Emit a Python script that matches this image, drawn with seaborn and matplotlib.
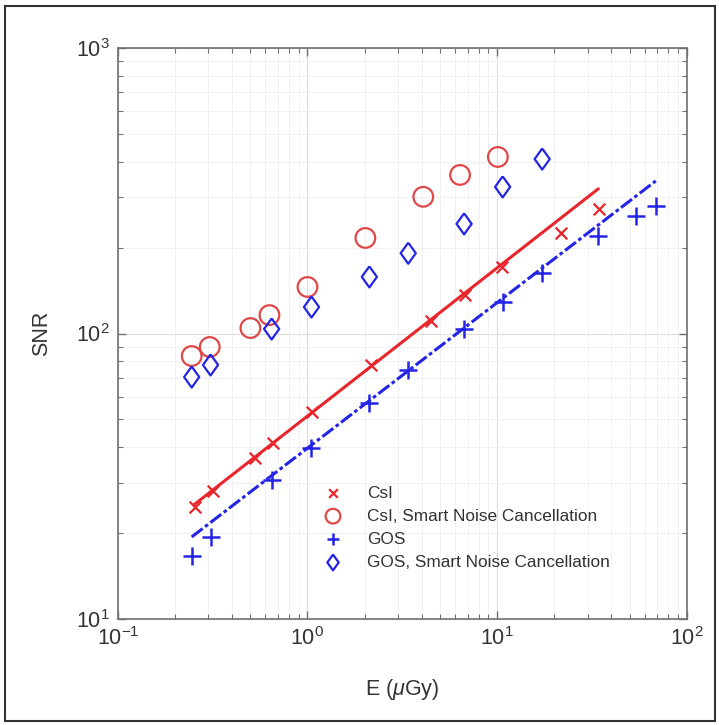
import numpy as np
import pandas as pd
import matplotlib
matplotlib.use("Agg")
import matplotlib.pyplot as plt
from matplotlib.patches import Rectangle
import seaborn as sns

# values (log-log)
csi_E = [0.254, 0.316, 0.526, 0.655, 1.06, 2.17, 4.5, 6.79, 10.6, 21.7, 34.4]
csi_snr = [24.7, 28.1, 36.6, 41.3, 53.1, 77.6, 110.6, 136.4, 171, 225, 273]

csi_snc_E = [0.245, 0.305, 0.50, 0.63, 1.0, 2.02, 4.08, 6.38, 10.1]
csi_snc_snr = [83.4, 89.7, 104.5, 116, 145.5, 216, 301, 359, 415]

gos_E = [0.245, 0.308, 0.647, 1.04, 2.12, 3.40, 6.7, 10.7, 17.3, 34.2, 54, 69]
gos_snr = [16.7, 19.4, 30.7, 39.7, 57.1, 74.5, 103.7, 128.9, 163, 219, 258, 280]

gos_snc_E = [0.245, 0.308, 0.647, 1.05, 2.12, 3.40, 6.7, 10.7, 17.3]
gos_snc_snr = [70.4, 77.6, 103.7, 123.8, 157.8, 191, 242, 326, 408]

# fitted lines (end points)
csi_fit_E = [0.251, 34.2]
csi_fit_snr = [25.1, 321]
gos_fit_E = [0.245, 68.7]
gos_fit_snr = [19.4, 342]

labels = ["CsI", "CsI, Smart Noise Cancellation", "GOS", "GOS, Smart Noise Cancellation"]

red = "#e8252b"
red_c = "#e04848"
blue = "#2424e6"

sns.set_theme(style="ticks")
plt.rcParams["font.family"] = ["Liberation Sans", "DejaVu Sans"]
plt.rcParams["mathtext.fontset"] = "custom"
plt.rcParams["mathtext.rm"] = "Liberation Sans"
plt.rcParams["mathtext.it"] = "Liberation Sans:italic"
plt.rcParams["axes.unicode_minus"] = False

fig = plt.figure(figsize=(7.19, 7.25), dpi=100)
ax = fig.add_axes([0.164, 0.146, 0.791, 0.788])
ax.set_xscale("log")
ax.set_yscale("log")

diamond = [(0, 1), (0.72, 0), (0, -1), (-0.72, 0), (0, 1)]

sns.lineplot(x=csi_fit_E, y=csi_fit_snr, ax=ax, color=red, linewidth=2.2, legend=False)
sns.lineplot(x=gos_fit_E, y=gos_fit_snr, ax=ax, color=blue, linewidth=2.2,
             linestyle=(0, (4.5, 1.0, 1.2, 1.0)), legend=False)

sns.scatterplot(x=csi_E, y=csi_snr, ax=ax, marker="x", color=red, s=70,
                linewidth=1.6, label=labels[0])
sns.scatterplot(x=csi_snc_E, y=csi_snc_snr, ax=ax, marker="o", color=red_c,
                facecolor="none", edgecolor=red_c, s=200, linewidth=1.6, label=labels[1])
sns.scatterplot(x=gos_E, y=gos_snr, ax=ax, marker="+", color=blue, s=150,
                linewidth=1.8, label=labels[2])
sns.scatterplot(x=gos_snc_E, y=gos_snc_snr, ax=ax, marker=diamond, color=blue,
                facecolor="none", edgecolor=blue, s=230, linewidth=1.6, label=labels[3])

ax.set_xlim(0.1, 100)
ax.set_ylim(10, 1000)

ax.grid(True, which="major", color="#dddddd", linewidth=0.8)
ax.grid(True, which="minor", color="#efefef", linewidth=0.6)
ax.set_axisbelow(True)

for sp in ax.spines.values():
    sp.set_visible(True)
    sp.set_color("#707070")
    sp.set_linewidth(1.2)

ax.tick_params(which="both", direction="in", top=True, right=True,
               color="#707070", labelcolor="#333333")
ax.tick_params(which="major", length=6, width=1.0, labelsize=15.5, pad=6)
ax.tick_params(which="minor", length=3.5, width=0.8)

ax.set_xlabel("E ($\\mu$Gy)", fontsize=15.5, color="#333333", labelpad=19)
ax.set_ylabel("SNR", fontsize=15.5, color="#333333", labelpad=17)

leg = ax.legend(loc="upper left", bbox_to_anchor=(0.357, 0.234), frameon=False,
                fontsize=12.4, handlelength=1.4, handletextpad=1.3, labelspacing=0.47,
                borderpad=0, borderaxespad=0, markerscale=0.75)
for t in leg.get_texts():
    t.set_color("#333333")

fig.patches.append(Rectangle((0.007, 0.006), 0.987, 0.986, transform=fig.transFigure,
                             fill=False, edgecolor="#333333", linewidth=1.5))

fig.savefig("out.png", dpi=100)
